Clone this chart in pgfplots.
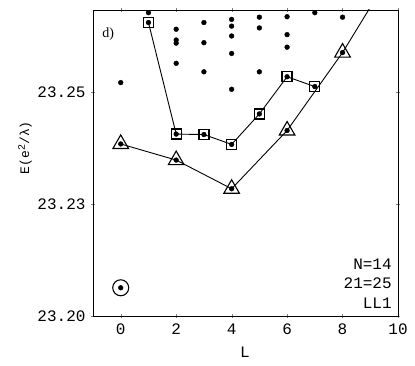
\documentclass[border=0pt]{standalone}
\usepackage{pgfplots}
\pgfplotsset{compat=1.18}
\usepackage{fontspec}
\setmainfont{Liberation Serif}
\newfontfamily\mono{Liberation Mono}
\begin{document}
\begin{tikzpicture}
\useasboundingbox (-93pt,-50pt) rectangle (322pt,316pt);
\begin{axis}[
  scale only axis,
  width=305pt, height=306pt,
  xmin=-1, xmax=10,
  ymin=23.2, ymax=23.2683,
  xtick={0,2,4,6,8,10},
  ytick={23.2,23.225,23.25},
  yticklabels={23.20,23.23,23.25},
  tick align=center,
  major tick length=4pt,
  /pgf/number format/assume math mode=true,
  ticklabel style={font=\mono\fontsize{16}{18}\selectfont},
  xticklabel style={yshift=-2pt},
  yticklabel style={xshift=-2pt},
  axis line style={line width=0.8pt},
  xlabel={L},
  xlabel style={font=\mono\fontsize{16}{18}\selectfont, at={(axis description cs:0.498,-0.118)}, anchor=center},
  ylabel={E(e\raisebox{0.6ex}{\fontsize{10}{10}\selectfont 2}/λ)},
  ylabel style={font=\mono\fontsize{13}{15}\selectfont, at={(axis description cs:-0.223,0.55)}, anchor=center, rotate=0},
  clip=true,
]
% triangle line (with off-screen continuation)
\addplot[black, line width=0.9pt, no marks] coordinates {
  (0,23.2384) (2,23.2348) (4,23.2284) (6,23.2414) (8,23.2588) (10,23.2790)};
\addplot[only marks, mark=triangle, mark size=9pt, mark options={line width=1.1pt, fill=none, black}] coordinates {
  (0,23.2384) (2,23.2348) (4,23.2284) (6,23.2414) (8,23.2588)};
% square line
\addplot[black, line width=0.9pt, mark=square, mark size=5pt, mark options={line width=1.3pt, fill=none}] coordinates {
  (1,23.2655) (2,23.2406) (3,23.2405) (4,23.2383) (5,23.2451) (6,23.2534) (7,23.2512)};
% circle
\addplot[only marks, mark=o, mark size=8pt, mark options={line width=1.1pt, black}] coordinates {(0,23.2063)};
% dots
\addplot[only marks, mark=*, mark size=2.4pt, black] coordinates {
  (0,23.2063) (0,23.2384) (0,23.2521)
  (1,23.2655) (1,23.2677)
  (2,23.2348) (2,23.2406) (2,23.2564) (2,23.2609) (2,23.2616) (2,23.2640)
  (3,23.2405) (3,23.2545) (3,23.2610) (3,23.2655)
  (4,23.2284) (4,23.2383) (4,23.2506) (4,23.2586) (4,23.2625) (4,23.2647) (4,23.2662)
  (5,23.2451) (5,23.2545) (5,23.2643) (5,23.2667)
  (6,23.2414) (6,23.2534) (6,23.2600) (6,23.2628) (6,23.2668)
  (7,23.2512) (7,23.2677)
  (8,23.2588) (8,23.2667)
};
\node[font=\fontsize{14}{16}\selectfont, anchor=center] at (axis description cs:0.05,0.92) {d)};
\node[font=\mono\fontsize{16}{19.5}\selectfont, align=right, anchor=south east, inner sep=0pt] at (axis description cs:0.98,0.025) {N=14\\21=25\\LL1};
\end{axis}
\end{tikzpicture}
\end{document}
